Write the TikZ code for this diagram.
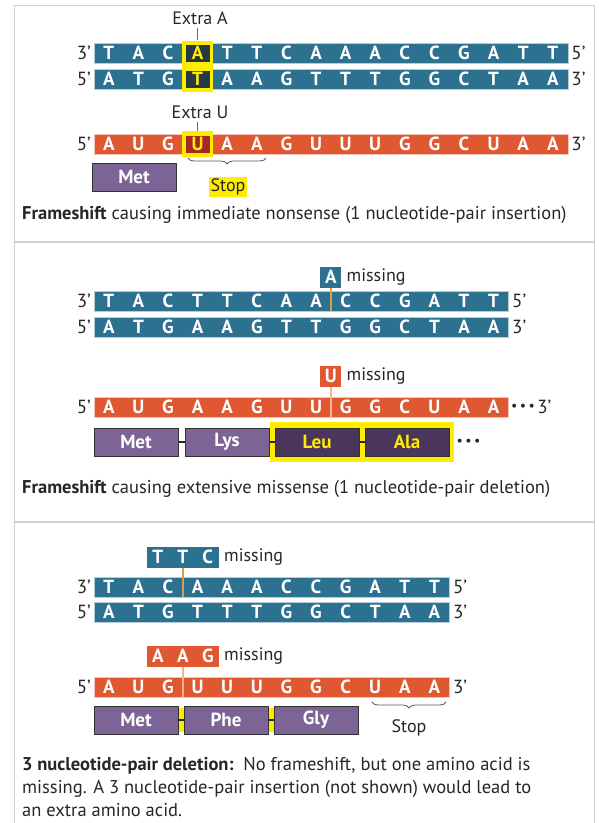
\documentclass[tikz,border=0pt]{standalone}
\usepackage{fontspec}
\setmainfont{PT Sans}
\usetikzlibrary{positioning,decorations.pathreplacing}
\definecolor{dnablue}{RGB}{45,113,145}
\definecolor{rnaorange}{RGB}{224,88,50}
\definecolor{aapurple}{RGB}{124,101,150}
\definecolor{aadark}{RGB}{74,54,90}
\definecolor{hiyellow}{RGB}{255,237,0}
\definecolor{hidark}{RGB}{38,56,68}
\definecolor{hired}{RGB}{165,38,35}
\definecolor{framegray}{RGB}{208,208,208}
\definecolor{txtgray}{RGB}{38,38,38}
\definecolor{tickgold}{RGB}{214,160,70}
\definecolor{tickpeach}{RGB}{250,182,130}
\def\cw{29.6}
\def\xo{94}

\begin{document}
\begin{tikzpicture}[x=1pt,y=-1pt,
  font=\fontsize{18}{22}\selectfont, text=txtgray,
  strandbar/.style={minimum height=20pt, inner sep=0pt, anchor=west, line width=0.6pt},
  dnabar/.style={strandbar, fill=dnablue, draw=white!65!dnablue},
  rnabar/.style={strandbar, fill=rnaorange, draw=white!65!rnaorange},
  base/.style={text=white, font=\fontsize{19}{19}\selectfont\bfseries, inner sep=0pt},
  endlbl/.style={inner sep=0pt, font=\fontsize{19}{19}\selectfont},
  hibox/.style={fill=hiyellow, inner sep=0pt, minimum width=31pt},
  hicell/.style={base, text=hiyellow, minimum width=24pt, minimum height=17pt},
  missbox/.style={base, minimum height=21pt, minimum width=21pt},
  aabox/.style={draw=black!80, line width=1pt, fill=aapurple, text=white,
    font=\fontsize{19}{19}\selectfont\bfseries, minimum width=84pt,
    minimum height=28pt, inner sep=0pt},
  aahi/.style={aabox, fill=aadark, text=hiyellow},
  link/.style={line width=2pt, draw=black!85},
  dnatick/.style={draw=black!60, double=tickgold, double distance=1.6pt, line width=0.5pt},
  rnatick/.style={draw=tickpeach, line width=1.6pt},
  stopbrace/.style={draw=black!65, line width=0.8pt, decorate,
    decoration={brace, mirror, amplitude=6pt}},
  dots/.style={inner sep=0pt, font=\fontsize{14}{14}\selectfont},
  caption/.style={anchor=west, inner sep=0pt, font=\fontsize{18.5}{23}\selectfont}
]
\useasboundingbox (0,0) rectangle (599,823);

% frame and panel rules
\draw[framegray, line width=1pt] (14,823) -- (14,5) -- (594,5) -- (594,823);
\draw[framegray, line width=2pt] (14,242) -- (594,242);
\draw[framegray, line width=2pt] (14,522) -- (594,522);

%% panel 1: insertion
\node[dnabar, minimum width=473.6pt] (top1) at (\xo,53) {};
\node[dnabar, minimum width=473.6pt] (top2) at (\xo,79) {};
\node[hibox, minimum height=51pt] (xbox) at ({\xo+3.5*\cw},66) {};
\foreach \b [count=\i] in {T,A,C,A,T,T,C,A,A,A,C,C,G,A,T,T}
  \node[base] (ta\i) at ({\xo+(\i-.5)*\cw},53) {\b};
\foreach \b [count=\i] in {A,T,G,T,A,A,G,T,T,T,G,G,C,T,A,A}
  \node[base] (tb\i) at ({\xo+(\i-.5)*\cw},79) {\b};
\node[hicell, fill=hidark] (xa) at (ta4) {A};
\node[hicell, fill=hidark] (xt) at (tb4) {T};
\node[endlbl, left=3pt of top1] (top1l) {3’};
\node[endlbl, right=3pt of top1] (top1r) {5’};
\node[endlbl, left=3pt of top2] (top2l) {5’};
\node[endlbl, right=3pt of top2] (top2r) {3’};
\node (extraA) at (200,18) {Extra A};
\draw[black!60, line width=0.8pt] (extraA.south -| xbox) -- (xbox.north);

\node[rnabar, minimum width=473.6pt] (mrna1) at (\xo,144) {};
\node[hibox, minimum height=26pt] (ubox) at ({\xo+3.5*\cw},144) {};
\foreach \b [count=\i] in {A,U,G,U,A,A,G,U,U,U,G,G,C,U,A,A}
  \node[base] (ra\i) at ({\xo+(\i-.5)*\cw},144) {\b};
\node[hicell, fill=hired] (xu) at (ra4) {U};
\node[endlbl, left=3pt of mrna1] (mrna1l) {5’};
\node[endlbl, right=3pt of mrna1] (mrna1r) {3’};
\node (extraU) at (200,112) {Extra U};
\draw[black!60, line width=0.8pt] (extraU.south -| ubox) -- (ubox.north);

\node[aabox] (met1) at (134,177) {Met};
\coordinate (br1a) at (188,158);
\coordinate (br1b) at (266,158);
\draw[stopbrace] (br1a) -- (br1b);
\node[fill=hiyellow, inner sep=2pt] (stop1) at (228,187) {Stop};
\node[caption] (cap1) at (22,215) {\textbf{Frameshift} causing immediate nonsense (1 nucleotide-pair insertion)};

%% panel 2: deletion of one pair
\node[dnabar, minimum width=414.4pt] (mid1) at (\xo,301) {};
\node[dnabar, minimum width=414.4pt] (mid2) at (\xo,327) {};
\foreach \b [count=\i] in {T,A,C,T,T,C,A,A,C,C,G,A,T,T}
  \node[base] (ma\i) at ({\xo+(\i-.5)*\cw},301) {\b};
\foreach \b [count=\i] in {A,T,G,A,A,G,T,T,G,G,C,T,A,A}
  \node[base] (mb\i) at ({\xo+(\i-.5)*\cw},327) {\b};
\node[endlbl, left=3pt of mid1] (mid1l) {3’};
\node[endlbl, right=3pt of mid1] (mid1r) {5’};
\node[endlbl, left=3pt of mid2] (mid2l) {5’};
\node[endlbl, right=3pt of mid2] (mid2r) {3’};
\node[missbox, fill=dnablue] (amiss) at ({\xo+8*\cw},277) {A};
\node[right=5pt of amiss, inner sep=0pt] (amissl) {missing};
\coordinate (acut) at ({\xo+8*\cw},311);
\draw[dnatick] (amiss.south) -- (acut);

\node[rnabar, minimum width=414.4pt] (mrna2) at (\xo,407) {};
\foreach \b [count=\i] in {A,U,G,A,A,G,U,U,G,G,C,U,A,A}
  \node[base] (rb\i) at ({\xo+(\i-.5)*\cw},407) {\b};
\node[endlbl, left=3pt of mrna2] (mrna2l) {5’};
\node[dots, right=2pt of mrna2] (mdots) {\textbullet\,\textbullet\,\textbullet};
\node[endlbl, right=2pt of mdots] (mrna2r) {3’};
\node[missbox, fill=rnaorange] (umiss) at ({\xo+8*\cw},376) {U};
\node[right=5pt of umiss, inner sep=0pt] (umissl) {missing};
\coordinate (ucut) at ({\xo+8*\cw},417);
\draw[rnatick] (umiss.south) -- (ucut);

\node[fill=hiyellow, minimum width=184pt, minimum height=40pt, inner sep=0pt] (shift) at (362,442) {};
\node[aabox] (met2) at (136,442) {Met};
\node[aabox] (lys) at (227,442) {Lys};
\node[aahi] (leu) at (317,442) {Leu};
\node[aahi] (ala) at (407,442) {Ala};
\draw[link] (met2) -- (lys);
\draw[link] (lys) -- (leu);
\draw[link] (leu) -- (ala);
\node[dots, right=7pt of ala] (adots) {\textbullet\,\textbullet\,\textbullet};
\node[caption] (cap2) at (22,489) {\textbf{Frameshift} causing extensive missense (1 nucleotide-pair deletion)};

%% panel 3: deletion of three pairs
\node[dnabar, minimum width=355.2pt] (low1) at (\xo,587) {};
\node[dnabar, minimum width=355.2pt] (low2) at (\xo,612) {};
\foreach \b [count=\i] in {T,A,C,A,A,A,C,C,G,A,T,T}
  \node[base] (la\i) at ({\xo+(\i-.5)*\cw},587) {\b};
\foreach \b [count=\i] in {A,T,G,T,T,T,G,G,C,T,A,A}
  \node[base] (lb\i) at ({\xo+(\i-.5)*\cw},612) {\b};
\node[endlbl, left=3pt of low1] (low1l) {3’};
\node[endlbl, right=3pt of low1] (low1r) {5’};
\node[endlbl, left=3pt of low2] (low2l) {5’};
\node[endlbl, right=3pt of low2] (low2r) {3’};
\node[missbox, fill=dnablue, minimum width=72pt] (ttc) at ({\xo+3*\cw},557) {};
\foreach \b [count=\i] in {T,T,C}
  \node[base] (ttc\i) at ({\xo+3*\cw+(\i-2)*25},557) {\b};
\node[right=5pt of ttc, inner sep=0pt] (ttcl) {missing};
\coordinate (tcut) at ({\xo+3*\cw},597);
\draw[dnatick] (ttc.south) -- (tcut);

\node[rnabar, minimum width=355.2pt] (mrna3) at (\xo,687) {};
\foreach \b [count=\i] in {A,U,G,U,U,U,G,G,C,U,A,A}
  \node[base] (rc\i) at ({\xo+(\i-.5)*\cw},687) {\b};
\node[endlbl, left=3pt of mrna3] (mrna3l) {5’};
\node[endlbl, right=3pt of mrna3] (mrna3r) {3’};
\node[missbox, fill=rnaorange, minimum width=72pt] (aag) at ({\xo+3*\cw},656) {};
\foreach \b [count=\i] in {A,A,G}
  \node[base] (aag\i) at ({\xo+3*\cw+(\i-2)*25},656) {\b};
\node[right=5pt of aag, inner sep=0pt] (aagl) {missing};
\coordinate (gcut) at ({\xo+3*\cw},697);
\draw[rnatick] (aag.south) -- (gcut);

\node[fill=hiyellow, minimum width=7pt, minimum height=24pt, inner sep=0pt] (bond1) at (181,720) {};
\node[fill=hiyellow, minimum width=7pt, minimum height=24pt, inner sep=0pt] (bond2) at (271,720) {};
\node[aabox] (met3) at (136,720) {Met};
\node[aabox] (phe) at (226,720) {Phe};
\node[aabox] (gly) at (316,720) {Gly};
\draw[link] (met3) -- (phe);
\draw[link] (phe) -- (gly);
\coordinate (br3a) at (372,702);
\coordinate (br3b) at (446,702);
\draw[stopbrace] (br3a) -- (br3b);
\node (stop3) at (409,728) {Stop};
\node[caption, align=left] (cap3) at (22,787)
  {\textbf{3 nucleotide-pair deletion:}\ \ No frameshift, but one amino acid is\\
   missing. A 3 nucleotide-pair insertion (not shown) would lead to\\
   an extra amino acid.};
\end{tikzpicture}
\end{document}
